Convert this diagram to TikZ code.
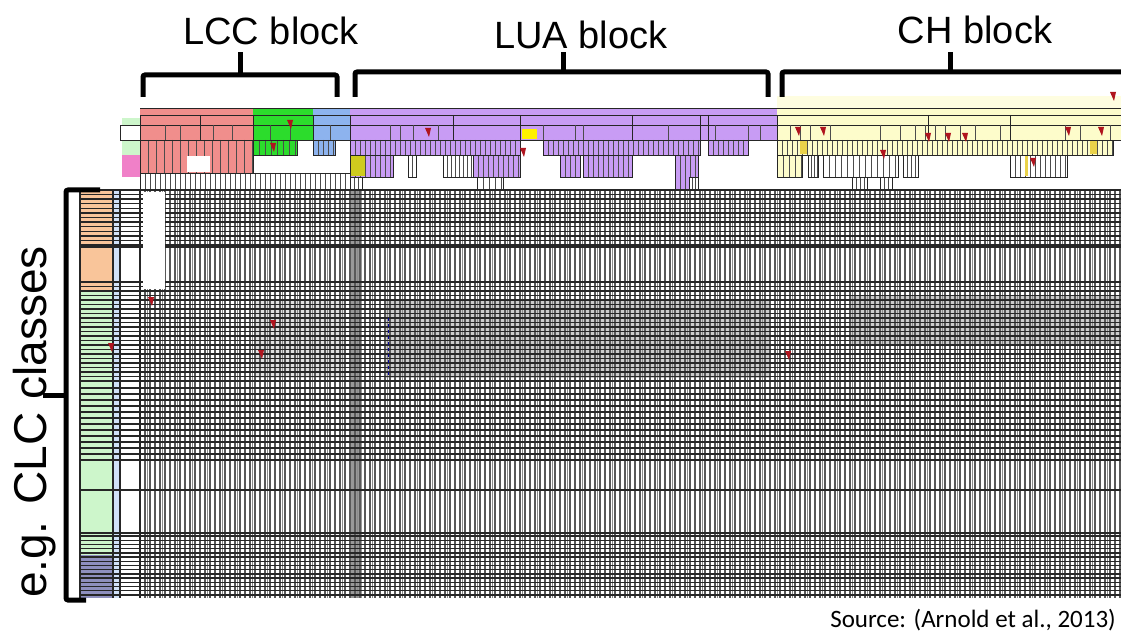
\documentclass[tikz,border=0pt]{standalone}
\usepackage{fontspec}
\setmainfont{Liberation Sans}
\newfontfamily\srcfont{Carlito}

\definecolor{lccpink}{HTML}{F08E8C}
\definecolor{lccgreen}{HTML}{2CDC2C}
\definecolor{lccblue}{HTML}{8DB3EE}
\definecolor{luapurple}{HTML}{C89CF4}
\definecolor{chyellow}{HTML}{FDFCCB}
\definecolor{chgold}{HTML}{EAD24A}
\definecolor{olivecell}{HTML}{CFCB1E}
\definecolor{rowhead}{HTML}{F080C8}
\definecolor{clcorange}{HTML}{F9C59A}
\definecolor{clcgreen}{HTML}{CDF6CB}
\definecolor{clcslate}{HTML}{8E8FBE}
\definecolor{markred}{HTML}{B0141E}

\tikzset{
  vline/.style={black!65, line width=1.2pt},
  hline/.style={black!85, line width=1.4pt},
  cellline/.style={black!70, line width=0.6pt},
  cell/.style={draw=black!85, line width=0.7pt},
  brace/.style={line width=5pt, rounded corners=2pt},
  blocktext/.style={font=\fontsize{38}{44}\selectfont, inner sep=0pt, anchor=base},
}

% a row of columns: fill, x1, y1, x2, y2, column width
\newcommand{\colblock}[6]{%
  \fill[#1] (#2,#3) rectangle (#4,#5);
  \pgfmathsetmacro\cbnext{#2+#6}
  \foreach \cbx in {#2,\cbnext,...,#4} {\draw[cellline] (\cbx,#3) -- (\cbx,#5);}
  \draw[cell] (#2,#3) rectangle (#4,#5);}
% comment marker of the sheet
\newcommand{\redmark}[2]{\fill[markred] (#1,#2) -- ++(6,0) -- ++(-2,9) -- cycle;}

\begin{document}
\begin{tikzpicture}[x=1pt, y=-1pt]
\useasboundingbox (0,0) rectangle (1121,636);

% header of the sheet
\fill[chyellow!60] (777,96) rectangle (1121,108);
\fill[lccpink] (140,108) rectangle (253,155);
\fill[lccgreen] (253,108) rectangle (313,140);
\fill[lccblue] (313,108) rectangle (350,140);
\fill[luapurple] (350,108) rectangle (777,140);
\fill[chyellow] (777,108) rectangle (1121,140);
\fill[yellow] (522,129) rectangle (537,139);
\foreach \y in {108,115,125,140}
  \draw[cell] (140,\y) -- (1121,\y);
\foreach \x in {140,200,253,313,350,453,520,632,700,708,777,928,1010}
  \draw[cell] (\x,115) -- (\x,140);
\foreach \x in {165,180,213,232,270,290,330,390,400,413,438,543,575,583,668,715,748,760,
                790,800,810,830,880,900,915,925,935,945,960,975,1000,1065,1080,1110}
  \draw[cellline] (\x,125) -- (\x,140);

% second header rows
\colblock{lccpink}{140}{140}{253}{173}{8}
\fill[white] (187,156) rectangle (210,172);
\colblock{lccgreen}{253}{140}{297}{155}{6}
\colblock{lccblue}{313}{140}{335}{155}{5}
\colblock{luapurple}{350}{140}{520}{155}{5}
\colblock{luapurple}{543}{140}{700}{155}{5}
\colblock{luapurple}{708}{140}{748}{155}{5}
\colblock{chyellow}{777}{140}{1113}{155}{5}
\fill[chgold] (800,141) rectangle (807,154);
\fill[chgold] (1090,141) rectangle (1097,154);
\colblock{luapurple}{350}{155}{393}{177}{5}
\fill[olivecell] (351,156) rectangle (365,176);
\colblock{white}{408}{155}{416}{177}{4}
\colblock{white}{443}{155}{473}{177}{4}
\colblock{luapurple}{473}{155}{520}{177}{5}
\colblock{luapurple}{560}{155}{580}{177}{5}
\colblock{luapurple}{583}{155}{632}{177}{5}
\colblock{luapurple}{675}{155}{698}{190}{5}
\colblock{chyellow}{777}{155}{802}{177}{6}
\colblock{white}{808}{155}{818}{177}{3}
\colblock{white}{823}{155}{898}{177}{6}
\colblock{white}{903}{155}{918}{177}{4}
\colblock{white}{1010}{155}{1067}{177}{5}
\fill[chgold] (1025,156) rectangle (1028,176);
\colblock{white}{140}{173}{350}{190}{5}
\colblock{white}{350}{177}{362}{190}{4}
\colblock{white}{477}{177}{503}{190}{6}
\colblock{white}{689}{177}{698}{190}{3}
\colblock{white}{852}{177}{867}{190}{4}
\colblock{white}{880}{177}{892}{190}{4}

% row heads of the header
\fill[clcgreen] (122,118) rectangle (140,125);
\fill[clcgreen] (122,141) rectangle (140,155);
\fill[rowhead] (122,155) rectangle (140,177);
\draw[cell] (120,125) rectangle (140,140);

% comment markers
\foreach \mx/\my in {287/120,270/143,425/128,520/148,795/127,820/127,880/150,
                     925/133,945/133,962/133,1030/158,1065/127,1098/127,1110/92}
  {\redmark{\mx}{\my}}

% class column and body of the sheet
\fill[clcorange] (80,190) rectangle (113,290);
\fill[clcgreen] (80,290) rectangle (113,555);
\fill[clcslate] (80,555) rectangle (113,598);
\fill[lccblue!40] (113,190) rectangle (120,598);
\fill[black!40] (350,190) rectangle (362,598);
\fill[black!40, fill opacity=.5] (385,300) rectangle (770,378);
\fill[black!40, fill opacity=.5] (850,295) rectangle (1121,345);
\fill[black!30, fill opacity=.4] (255,300) rectangle (345,378);
\foreach \x in {80,113,120,140}
  \draw[hline] (\x,190) -- (\x,598);
\foreach \x in {145,150,...,1120}
  \draw[vline] (\x,190) -- (\x,598);
\foreach \x in {147.5,162.5,...,1120}
  \draw[vline, black!45, line width=0.8pt] (\x,190) -- (\x,598);
\foreach \y in {190,194.6,...,246}
  \draw[hline] (80,\y) -- (1121,\y);
\foreach \y in {282,286.5,...,382}
  \draw[hline] (80,\y) -- (1121,\y);
\foreach \y in {388,394,...,462}
  \draw[hline] (80,\y) -- (1121,\y);
\foreach \y in {247,490,533}
  \draw[hline, line width=1.8pt] (80,\y) -- (1121,\y);
\foreach \y in {536,540.2,...,598}
  \draw[hline] (80,\y) -- (1121,\y);
\fill[white] (143,192) rectangle (165,289);
\draw[blue!60!black, dashed, line width=1pt] (388,318) -- (388,376);
\foreach \mx/\my in {148/297,270/320,258/350,108/343,785/351}
  {\redmark{\mx}{\my}}

% braces
\draw[brace] (143,97) -- (143,75) -- (337,75) -- (337,97);
\draw[brace] (240,75) -- (240,52);
\draw[brace] (355,97) -- (355,72) -- (768,72) -- (768,97);
\draw[brace] (563,72) -- (563,52);
\draw[brace] (782,97) -- (782,72) -- (1121,72);
\draw[brace] (950,72) -- (950,52);
\draw[brace] (100,190) -- (66,190) -- (66,600) -- (86,600);
\draw[brace] (66,395) -- (43,395);

% labels
\node[blocktext] (lcc) at (271,45) {LCC block};
\node[blocktext] (lua) at (581,49) {LUA block};
\node[blocktext] (ch) at (975,44) {CH block};
\node[blocktext, font=\fontsize{46}{52}\selectfont, rotate=90] (clc) at (46,422) {e.g. CLC classes};
\node[inner sep=0pt, anchor=base east, font=\srcfont\fontsize{25}{30}\selectfont]
  (source) at (1116,627) {Source: (Arnold et al., 2013)};
\end{tikzpicture}
\end{document}
